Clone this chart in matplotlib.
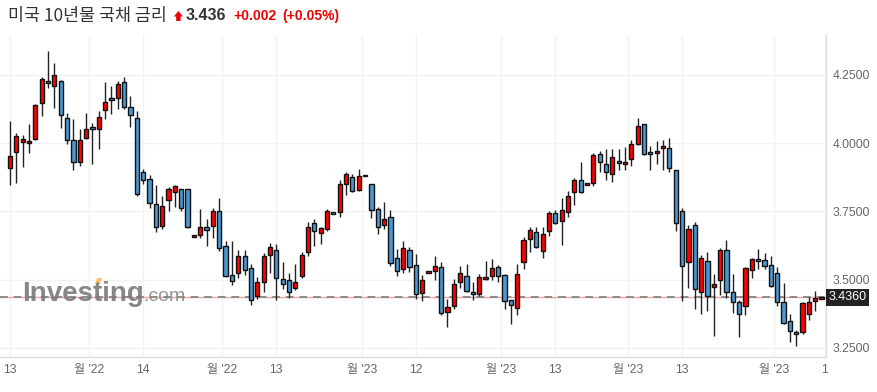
import matplotlib
matplotlib.use('Agg')
import matplotlib.pyplot as plt
import numpy as np
from matplotlib.patches import Polygon

plt.rcParams['font.family'] = ['Liberation Sans', 'Noto Sans CJK KR']

# daily OHLC
opens = [3.909, 3.967, 4.004, 3.999, 4.015, 4.146, 4.228, 4.209, 4.228, 4.091,
         4.011, 3.930, 4.018, 4.060, 4.051, 4.121, 4.166, 4.165, 4.223, 4.132,
         4.091, 3.896, 3.868, 3.777, 3.695, 3.791, 3.821, 3.832, 3.832, 3.656,
         3.663, 3.692, 3.696, 3.751, 3.623, 3.517, 3.524, 3.586, 3.542, 3.440,
         3.491, 3.590, 3.608, 3.502, 3.498, 3.469, 3.513, 3.601, 3.707, 3.671,
         3.686, 3.747, 3.747, 3.850, 3.875, 3.828, 3.880, 3.850, 3.758, 3.700,
         3.729, 3.579, 3.539, 3.608, 3.553, 3.451, 3.524, 3.531, 3.546, 3.381,
         3.403, 3.491, 3.513, 3.455, 3.447, 3.502, 3.513, 3.546, 3.517, 3.425,
         3.396, 3.564, 3.649, 3.674, 3.605, 3.678, 3.744, 3.715, 3.747, 3.821,
         3.864, 3.846, 3.853, 3.960, 3.923, 3.886, 3.934, 3.923, 3.941, 3.996,
         4.069, 3.967, 3.963, 3.982, 3.982, 3.901, 3.751, 3.564, 3.700, 3.455,
         3.568, 3.473, 3.498, 3.608, 3.455, 3.418, 3.403, 3.535, 3.575, 3.572,
         3.553, 3.524, 3.418, 3.348, 3.308, 3.308, 3.374, 3.422, 3.430]
highs = [4.082, 4.036, 4.030, 4.069, 4.143, 4.244, 4.338, 4.293, 4.230, 4.112,
         4.089, 4.051, 4.112, 4.072, 4.116, 4.223, 4.209, 4.228, 4.244, 4.174,
         4.116, 3.906, 3.884, 3.847, 3.808, 3.838, 3.847, 3.833, 3.833, 3.664,
         3.760, 3.723, 3.764, 3.799, 3.640, 3.641, 3.610, 3.607, 3.559, 3.509,
         3.597, 3.636, 3.630, 3.564, 3.523, 3.557, 3.601, 3.710, 3.722, 3.692,
         3.758, 3.749, 3.866, 3.896, 3.886, 3.905, 3.881, 3.851, 3.766, 3.784,
         3.755, 3.611, 3.640, 3.619, 3.594, 3.517, 3.533, 3.586, 3.564, 3.429,
         3.502, 3.550, 3.557, 3.491, 3.520, 3.568, 3.575, 3.555, 3.520, 3.427,
         3.557, 3.656, 3.693, 3.693, 3.693, 3.751, 3.755, 3.799, 3.824, 3.872,
         3.930, 3.855, 3.963, 3.971, 3.978, 3.978, 3.978, 3.985, 4.011, 4.091,
         4.071, 3.989, 4.007, 4.010, 4.018, 3.902, 3.762, 3.701, 3.711, 3.589,
         3.601, 3.520, 3.616, 3.645, 3.520, 3.425, 3.546, 3.579, 3.612, 3.597,
         3.586, 3.546, 3.487, 3.374, 3.316, 3.418, 3.436, 3.459, 3.438]
lows = [3.848, 3.853, 3.912, 3.963, 4.011, 4.101, 4.201, 4.128, 4.055, 3.996,
        3.901, 3.915, 4.017, 3.924, 3.978, 4.089, 4.107, 4.124, 4.124, 4.058,
        3.808, 3.850, 3.761, 3.674, 3.686, 3.750, 3.766, 3.750, 3.691, 3.655,
        3.652, 3.623, 3.652, 3.606, 3.509, 3.479, 3.508, 3.518, 3.408, 3.429,
        3.456, 3.523, 3.425, 3.466, 3.433, 3.463, 3.506, 3.588, 3.624, 3.631,
        3.677, 3.739, 3.729, 3.811, 3.821, 3.823, 3.878, 3.725, 3.668, 3.685,
        3.552, 3.514, 3.523, 3.530, 3.429, 3.422, 3.523, 3.498, 3.372, 3.327,
        3.392, 3.469, 3.455, 3.425, 3.442, 3.498, 3.498, 3.491, 3.392, 3.338,
        3.371, 3.539, 3.601, 3.616, 3.579, 3.660, 3.704, 3.627, 3.729, 3.773,
        3.817, 3.845, 3.843, 3.894, 3.864, 3.857, 3.901, 3.901, 3.916, 3.993,
        3.956, 3.901, 3.923, 3.901, 3.896, 3.677, 3.421, 3.469, 3.392, 3.374,
        3.385, 3.294, 3.445, 3.433, 3.378, 3.290, 3.371, 3.506, 3.539, 3.539,
        3.473, 3.403, 3.338, 3.272, 3.257, 3.301, 3.352, 3.384, 3.428]
closes = [3.954, 4.027, 4.015, 4.008, 4.139, 4.234, 4.219, 4.249, 4.102, 4.011,
          3.930, 4.011, 4.051, 4.051, 4.095, 4.150, 4.157, 4.218, 4.132, 4.102,
          3.813, 3.866, 3.780, 3.692, 3.769, 3.832, 3.844, 3.762, 3.692, 3.663,
          3.692, 3.681, 3.751, 3.617, 3.514, 3.495, 3.586, 3.535, 3.425, 3.491,
          3.586, 3.619, 3.505, 3.484, 3.455, 3.491, 3.590, 3.692, 3.678, 3.689,
          3.751, 3.740, 3.850, 3.886, 3.825, 3.879, 3.879, 3.755, 3.692, 3.722,
          3.563, 3.531, 3.616, 3.546, 3.447, 3.498, 3.531, 3.550, 3.378, 3.400,
          3.484, 3.524, 3.458, 3.447, 3.509, 3.509, 3.542, 3.513, 3.422, 3.407,
          3.520, 3.645, 3.682, 3.620, 3.667, 3.744, 3.707, 3.755, 3.806, 3.864,
          3.821, 3.853, 3.956, 3.930, 3.894, 3.949, 3.927, 3.930, 3.996, 4.062,
          3.960, 3.960, 3.971, 3.990, 3.909, 3.707, 3.550, 3.685, 3.466, 3.579,
          3.440, 3.484, 3.608, 3.455, 3.418, 3.374, 3.542, 3.575, 3.568, 3.550,
          3.477, 3.418, 3.341, 3.312, 3.301, 3.414, 3.418, 3.434, 3.436]

tick_pos = [0, 12.5, 21, 33.5, 42, 55.5, 64, 77.5, 86, 97.5, 106, 120.5, 128.5]
tick_labels = ['13', "월 '22", '14', "월 '22", '13', "월 '23", '12', "월 '23",
               '13', "월 '23", '13', "월 '23", '1']
y_ticks = [3.25, 3.5, 3.75, 4.0, 4.25]

title = '미국 10년물 국채 금리'
last_price = 3.436
change = 0.002
change_pct = 0.05

UP = '#ff0000'
DOWN = '#4a98d3'
W, H = 878, 392

fig = plt.figure(figsize=(W / 100, H / 100), dpi=100)
ax = fig.add_axes([0, 1 - 357 / H, 826 / W, (357 - 35) / H])

# candles
x = np.arange(len(opens))
o = np.array(opens)
c = np.array(closes)
colors = np.where(c >= o, UP, DOWN)
ax.vlines(x, lows, highs, color='#222222', lw=1, zorder=3)
ax.bar(x, np.maximum(np.abs(c - o), 0.004), bottom=np.minimum(o, c), width=0.66,
       color=colors, edgecolor='#111111', linewidth=1, zorder=4)

# last price line
ax.axhline(last_price, color='#f4a3a3', lw=1, zorder=2)
ax.axhline(last_price, color='#8c8c8c', lw=1.4, ls=(0, (4, 3)), zorder=2.5)

ax.set_xlim(-1.58, 128.7)
ax.set_ylim(3.217, 4.396)
ax.set_xticks(tick_pos)
ax.set_xticklabels(tick_labels)
ax.set_yticks(y_ticks)
ax.set_yticklabels([f'{v:.4f}' for v in y_ticks])
ax.yaxis.tick_right()
ax.tick_params(axis='both', length=0, labelsize=8.7, labelcolor='#666666')
ax.tick_params(axis='x', pad=5)
ax.tick_params(axis='y', pad=5)
ax.grid(True, color='#f2f2f2', lw=1, zorder=0)
ax.set_axisbelow(True)
for s in ['left', 'top']:
    ax.spines[s].set_visible(False)
for s in ['right', 'bottom']:
    ax.spines[s].set_color('#dddddd')
    ax.spines[s].set_linewidth(1)

ax.text(1.003, last_price, f'{last_price:.4f}', transform=ax.get_yaxis_transform(),
        ha='left', va='center', color='white', fontsize=9,
        bbox=dict(boxstyle='square,pad=0.2', fc='#222222', ec='none'),
        clip_on=False, zorder=10)

# header
renderer = fig.canvas.get_renderer()


def put(xpx, ypx, s, **kw):
    t = fig.text(xpx / W, 1 - ypx / H, s, ha='left', **kw)
    return t.get_window_extent(renderer).x1


xe = put(8, 16, title, va='center', fontsize=12.5, color='#333333',
         family=['Noto Sans CJK KR', 'DejaVu Sans'])
ax0 = xe + 7
cx = ax0 + 4.5
arrow = [(cx - 4.5, 16.5), (cx, 11), (cx + 4.5, 16.5), (cx + 2.2, 16.5), (cx + 2.2, 21),
         (cx - 2.2, 21), (cx - 2.2, 16.5)]
fig.add_artist(Polygon([(px / W, 1 - py / H) for px, py in arrow], closed=True,
                       transform=fig.transFigure, fc='#ee0000', ec='none'))
xe = put(ax0 + 12, 16, f'{last_price:.3f}', va='center', fontsize=11.5,
         fontweight='bold', color='#333333')
xe = put(xe + 7, 16, f'+{change:.3f}', va='center', fontsize=10,
         fontweight='bold', color='#ee0000')
put(xe + 6, 16, f'(+{change_pct:.2f}%)', va='center', fontsize=10,
    fontweight='bold', color='#ee0000')

# watermark
wm = fig.text(22 / W, 1 - 301 / H, 'Investing', fontsize=20, fontweight='bold',
              color='#7a7a7a', alpha=0.9, va='baseline', ha='left')
bb = wm.get_window_extent(renderer)
fig.text(bb.x1 / W, 1 - 301 / H, '.com', fontsize=14, color='#8a8a8a', alpha=0.9,
         va='baseline', ha='left')
tmp = fig.text(22 / W, 0, 'Inves', fontsize=20, fontweight='bold')
tx = tmp.get_window_extent(renderer).x1
tmp.remove()
acc = [(tx + 2, 284), (tx + 4, 278), (tx + 9, 278), (tx + 7, 284)]
fig.add_artist(Polygon([(px / W, 1 - py / H) for px, py in acc], closed=True,
                       transform=fig.transFigure, fc='#f5c26b', ec='none'))

fig.savefig('out.png', dpi=100)
